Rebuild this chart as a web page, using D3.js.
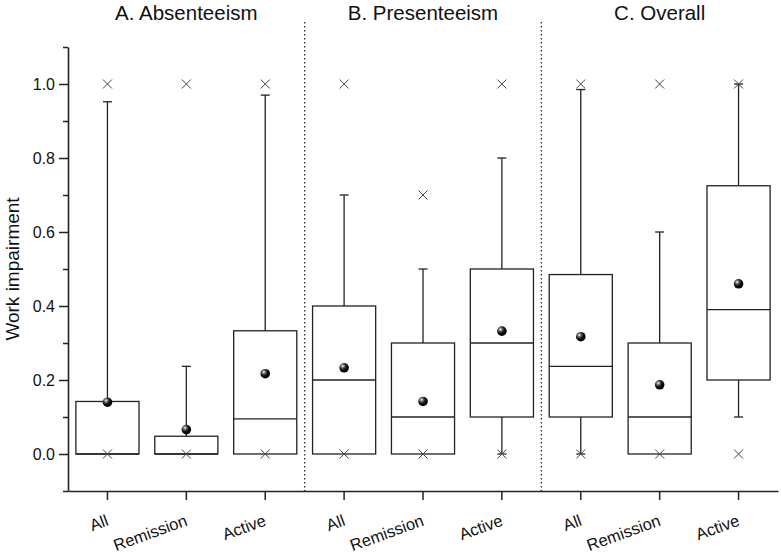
<!DOCTYPE html>
<html>
<head>
<meta charset="utf-8">
<script src="https://cdn.jsdelivr.net/npm/d3@7"></script>
<style>
  html, body { margin: 0; padding: 0; background: #fff; }
  svg { display: block; font-family: Arial, "Liberation Sans", sans-serif; }
</style>
</head>
<body>
<svg id="chart" width="781" height="557"></svg>
<script>
// ---- data ----
const panels = ["A. Absenteeism", "B. Presenteeism", "C. Overall"];
const categories = ["All", "Remission", "Active"];
const q1          = [0, 0, 0,      0, 0, 0.1,     0.1, 0, 0.2];
const median      = [0, 0, 0.095,  0.2, 0.1, 0.3,  0.237, 0.1, 0.39];
const q3          = [0.142, 0.048, 0.333, 0.4, 0.3, 0.5, 0.485, 0.3, 0.725];
const whiskerLow  = [0, 0, 0,      0, 0, 0,       0, 0, 0.1];
const whiskerHigh = [0.952, 0.237, 0.97, 0.7, 0.5, 0.8, 0.985, 0.6, 1.0];
const means       = [0.14, 0.066, 0.217, 0.233, 0.142, 0.332, 0.317, 0.187, 0.46];
const minMark     = [0, 0, 0, 0, 0, 0, 0, 0, 0];
const maxMark     = [1, 1, 1, 1, 0.7, 1, 1, 1, 1];
const majorTicks  = [0, 0.2, 0.4, 0.6, 0.8, 1.0];
const minorTicks  = [-0.1, 0.1, 0.3, 0.5, 0.7, 0.9, 1.1];
const yTitle = "Work impairment";

// ---- layout ----
const svg = d3.select("#chart");
const mLeft = 68, mRight = 778, mTop = 47, mBottom = 491;
const keys = d3.range(panels.length * categories.length);
const x = d3.scaleBand().domain(keys).range([mLeft, mRight]).paddingInner(0).paddingOuter(0);
const y = d3.scaleLinear().domain([-0.1, 1.1]).range([mBottom, mTop]);
const boxW = x.bandwidth() * 0.8;
const capW = 9;
const ink = "#222";

// defs: sphere gradient
const defs = svg.append("defs");
const grad = defs.append("radialGradient").attr("id", "sphere")
  .attr("cx", "35%").attr("cy", "32%").attr("r", "65%");
grad.append("stop").attr("offset", "0%").attr("stop-color", "#ffffff");
grad.append("stop").attr("offset", "25%").attr("stop-color", "#777");
grad.append("stop").attr("offset", "60%").attr("stop-color", "#111");
grad.append("stop").attr("offset", "100%").attr("stop-color", "#000");

// separators
[3, 6].forEach(i => {
  const sx = x(i);
  svg.append("line").attr("x1", sx).attr("x2", sx).attr("y1", 22).attr("y2", mBottom)
    .attr("stroke", "#333").attr("stroke-width", 1.4).attr("stroke-dasharray", "1.5 2.5");
});

// panel titles
panels.forEach((p, i) => {
  const cx = x(i * 3 + 1) + x.bandwidth() / 2;
  svg.append("text").attr("x", cx).attr("y", 19.5).attr("text-anchor", "middle")
    .attr("font-size", 20.5).attr("fill", "#111").text(p);
});

// y axis
const yAxis = d3.axisLeft(y).tickValues(majorTicks).tickFormat(d3.format(".1f"))
  .tickSize(9).tickSizeOuter(0).tickPadding(4);
const gy = svg.append("g").attr("transform", `translate(${mLeft},0)`).call(yAxis);
gy.select(".domain").attr("stroke", ink).attr("stroke-width", 1.6);
gy.selectAll(".tick line").attr("stroke", ink).attr("stroke-width", 1.5);
gy.selectAll(".tick text").attr("font-size", 16).attr("fill", "#111").attr("font-family", "Arial, 'Liberation Sans', sans-serif");
const yMinor = d3.axisLeft(y).tickValues(minorTicks).tickSize(5).tickFormat("").tickSizeOuter(0);
const gym = svg.append("g").attr("transform", `translate(${mLeft},0)`).call(yMinor);
gym.select(".domain").remove();
gym.selectAll(".tick line").attr("stroke", ink).attr("stroke-width", 1.5);

// x axis
const xAxis = d3.axisBottom(x).tickSize(9).tickSizeOuter(0).tickFormat(i => categories[i % 3]);
const gx = svg.append("g").attr("transform", `translate(0,${mBottom})`).call(xAxis);
gx.select(".domain").attr("stroke", ink).attr("stroke-width", 1.6);
gx.selectAll(".tick line").attr("stroke", ink).attr("stroke-width", 1.5);
gx.selectAll(".tick text")
  .attr("font-size", 16.5).attr("fill", "#111").attr("font-family", "Arial, 'Liberation Sans', sans-serif")
  .attr("text-anchor", "end").attr("dy", null).attr("y", null)
  .attr("transform", "translate(2,34) rotate(-20)");

// y title
svg.append("text").attr("transform", `translate(19,${(mTop + mBottom) / 2}) rotate(-90)`)
  .attr("text-anchor", "middle").attr("font-size", 19).attr("fill", "#111").text(yTitle);

// boxes
const g = svg.append("g");
keys.forEach(i => {
  const cx = x(i) + x.bandwidth() / 2;
  // whiskers
  if (whiskerHigh[i] > q3[i]) {
    g.append("line").attr("x1", cx).attr("x2", cx).attr("y1", y(q3[i])).attr("y2", y(whiskerHigh[i]))
      .attr("stroke", ink).attr("stroke-width", 1.3);
    g.append("line").attr("x1", cx - capW / 2).attr("x2", cx + capW / 2)
      .attr("y1", y(whiskerHigh[i])).attr("y2", y(whiskerHigh[i])).attr("stroke", ink).attr("stroke-width", 1.3);
  }
  if (whiskerLow[i] < q1[i]) {
    g.append("line").attr("x1", cx).attr("x2", cx).attr("y1", y(q1[i])).attr("y2", y(whiskerLow[i]))
      .attr("stroke", ink).attr("stroke-width", 1.3);
    g.append("line").attr("x1", cx - capW / 2).attr("x2", cx + capW / 2)
      .attr("y1", y(whiskerLow[i])).attr("y2", y(whiskerLow[i])).attr("stroke", ink).attr("stroke-width", 1.3);
  }
  // box
  g.append("rect").attr("x", cx - boxW / 2).attr("width", boxW)
    .attr("y", y(q3[i])).attr("height", y(q1[i]) - y(q3[i]))
    .attr("fill", "none").attr("stroke", ink).attr("stroke-width", 1.3);
  g.append("line").attr("x1", cx - boxW / 2).attr("x2", cx + boxW / 2)
    .attr("y1", y(median[i])).attr("y2", y(median[i])).attr("stroke", ink).attr("stroke-width", 1.3);
  // min/max crosses
  [minMark[i], maxMark[i]].forEach(v => {
    const yy = y(v), s = 4.5;
    g.append("path").attr("d", `M${cx - s},${yy - s}L${cx + s},${yy + s}M${cx - s},${yy + s}L${cx + s},${yy - s}`)
      .attr("stroke", "#444").attr("stroke-width", 1).attr("fill", "none");
  });
  // mean
  g.append("circle").attr("cx", cx).attr("cy", y(means[i])).attr("r", 4.8)
    .attr("fill", "url(#sphere)");
});
</script>
</body>
</html>
